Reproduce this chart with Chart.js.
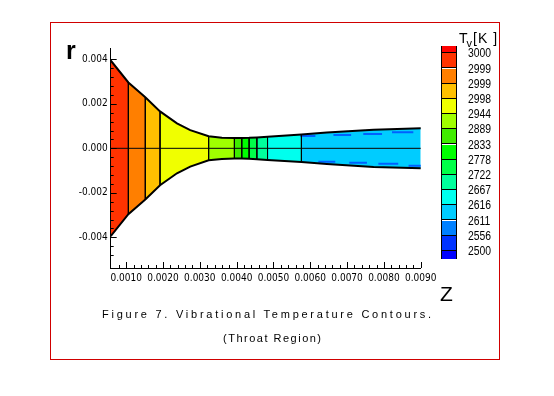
<!DOCTYPE html>
<html>
<head>
<meta charset="utf-8">
<script src="https://cdn.jsdelivr.net/npm/chart.js@4.4.1/dist/chart.umd.min.js"></script>
<style>
body { margin: 0; background: #fff; }
#wrap { position: relative; width: 554px; height: 396px; overflow: hidden; font-family: 'Liberation Sans', Arial, sans-serif; }
#myChart { position: absolute; left: 0; top: 0; }
#marco { position: absolute; left: 50px; top: 22px; width: 450px; height: 338px; box-sizing: border-box; border: 1px solid #d00000; }
.txt { position: absolute; white-space: nowrap; color: #000; line-height: 1; }
#ejeR { left: 66px; top: 38px; font-size: 25px; font-weight: bold; }
#ejeZ { left: 440px; top: 283px; font-size: 21px; }
#cap1 { left: 102px; top: 309px; font-size: 11px; letter-spacing: 2.75px; }
#cap2 { left: 223px; top: 333px; font-size: 11px; letter-spacing: 1.5px; }
#tituloLeyenda { left: 459px; top: 31px; font-size: 14px; letter-spacing: 1px; }
#tituloLeyenda sub { font-size: 11px; vertical-align: -4px; margin-left: -2px; }
#barra { position: absolute; left: 441px; width: 16px; box-sizing: border-box; border: 1px solid #000; }
.caja { position: absolute; left: 0; width: 14px; box-sizing: border-box; border-bottom: 1px solid #000; }
.etiqueta { position: absolute; left: 468px; font-size: 12.5px; line-height: 14px; transform: scaleX(0.83); transform-origin: left center; }
</style>
</head>
<body>
<div id="wrap">
  <canvas id="myChart" width="554" height="396"></canvas>
  <div id="marco"></div>
  <div class="txt" id="ejeR">r</div>
  <div class="txt" id="ejeZ">Z</div>
  <div class="txt" id="cap1">Figure 7. Vibrational Temperature Contours.</div>
  <div class="txt" id="cap2">(Throat Region)</div>
  <div class="txt" id="tituloLeyenda">T<sub>v</sub>[K ]</div>
  <div id="barra"></div>
</div>
<script>
// contorno de la tobera (pared superior, simetrica)
const wallZ = [0.00058, 0.00106, 0.00152, 0.00192, 0.00238, 0.00274, 0.00324, 0.00360, 0.00394, 0.00414, 0.00434, 0.00455, 0.00484, 0.00576, 0.00645, 0.00772, 0.00903];
const wallR = [0.00395, 0.00296, 0.00230, 0.00166, 0.00112, 0.00082, 0.00054, 0.00048, 0.00046, 0.00046, 0.00047, 0.00049, 0.00052, 0.00062, 0.00071, 0.00084, 0.00090];

// bandas de temperatura entre contornos
const bandEdges = [0.00058, 0.00106, 0.00152, 0.00192, 0.00324, 0.00394, 0.00414, 0.00434, 0.00455, 0.00484, 0.00576, 0.00903];
const bandColors = ['#ff3300', '#ff7f00', '#ffc000', '#f0ff00', '#a0ff00', '#40ec00', '#00ff00', '#00ff48', '#00ff9c', '#00ffee', '#00ccff'];

// rayas azules cerca de la pared (contornos 2611 / 2556)
const streakZ0 = [0.00573, 0.00663, 0.00744, 0.00822, 0.00622, 0.00706, 0.00785, 0.00867];
const streakZ1 = [0.00614, 0.00711, 0.00795, 0.00880, 0.00668, 0.00754, 0.00839, 0.00903];
const streakR = [0.00055, 0.00060, 0.00064, 0.00072, -0.00060, -0.00065, -0.00069, -0.00078];

// leyenda
const legendLabels = ['3000', '2999', '2999', '2998', '2944', '2889', '2833', '2778', '2722', '2667', '2616', '2611', '2556', '2500'];
const legendColors = ['#ff0000', '#ff3300', '#ff7f00', '#ffc000', '#f0ff00', '#a0ff00', '#40ec00', '#00ff00', '#00ff48', '#00ff9c', '#00ffee', '#00ccff', '#0080ff', '#0033ff', '#0000ff'];

// ejes
const zMin = 0.00058, zMax = 0.0090, zMinor = 0.0002, zMajor = 0.001;
const rMin = -0.00538, rMax = 0.00451, rMinor = 0.0004, rMajor = 0.002;

const esMultiplo = (v, paso) => {
    const k = v / paso;
    return Math.abs(k - Math.round(k)) < 1e-6;
}

const puntosPared = (signo, z0, z1) => {
    return wallZ.map((z, i) => ({ x: z, y: signo * wallR[i] }))
        .filter(p => p.x >= z0 - 1e-9 && p.x <= z1 + 1e-9);
}

const datasets = [];

bandColors.forEach((color, b) => {
    [1, -1].forEach(signo => {
        datasets.push({
            data: puntosPared(signo, bandEdges[b], bandEdges[b + 1]),
            fill: 'origin',
            backgroundColor: color,
            borderColor: 'rgba(0,0,0,0)',
            borderWidth: 1,
            order: 3
        });
    });
});

const rayas = [];
streakZ0.forEach((z0, i) => {
    rayas.push({ x: z0, y: streakR[i] }, { x: streakZ1[i], y: streakR[i] }, { x: streakZ1[i], y: null });
});
datasets.push({ data: rayas, borderColor: '#0060ff', borderWidth: 2, fill: false, spanGaps: false, order: 2 });

[1, -1].forEach(signo => {
    datasets.push({ data: puntosPared(signo, zMin, 1), borderColor: '#000', borderWidth: 2, fill: false, order: 1 });
});

bandEdges.slice(1, -1).forEach(z => {
    const r = wallR[wallZ.findIndex(w => Math.abs(w - z) < 1e-9)];
    datasets.push({ data: [{ x: z, y: r }, { x: z, y: -r }], borderColor: '#000', borderWidth: 1, fill: false, order: 1 });
});

datasets.push({ data: [{ x: zMin, y: 0 }, { x: wallZ[wallZ.length - 1], y: 0 }], borderColor: '#000', borderWidth: 1, fill: false, order: 1 });

// marcas de los ejes hacia dentro
const marcasInternas = {
    id: 'marcasInternas',
    afterDraw(chart) {
        const { ctx, chartArea, scales: { x, y } } = chart;
        ctx.save();
        ctx.strokeStyle = '#000';
        ctx.lineWidth = 1;
        ctx.beginPath();
        x.ticks.forEach(t => {
            if (!esMultiplo(t.value, zMinor)) return;
            const px = Math.round(x.getPixelForValue(t.value)) + 0.5;
            ctx.moveTo(px, chartArea.bottom);
            ctx.lineTo(px, chartArea.bottom - (esMultiplo(t.value, zMajor) ? 6 : 3));
        });
        y.ticks.forEach(t => {
            if (!esMultiplo(t.value, rMinor)) return;
            const py = Math.round(y.getPixelForValue(t.value)) + 0.5;
            ctx.moveTo(chartArea.left, py);
            ctx.lineTo(chartArea.left + (esMultiplo(t.value, rMajor) ? 6 : 3), py);
        });
        ctx.stroke();
        ctx.restore();
    }
};

const fuenteTicks = { family: "'Liberation Sans Narrow', 'DejaVu Sans Condensed', sans-serif", size: 10 };

new Chart(document.getElementById('myChart').getContext('2d'), {
    type: 'line',
    data: { datasets: datasets },
    options: {
        responsive: false,
        animation: false,
        devicePixelRatio: 1,
        layout: { padding: { left: 50.7, right: 133.3, top: 48, bottom: 108 } },
        elements: { point: { radius: 0, hoverRadius: 0 }, line: { tension: 0 } },
        plugins: { legend: { display: false }, tooltip: { enabled: false } },
        scales: {
            x: {
                type: 'linear',
                min: zMin,
                max: zMax,
                grid: { display: false, drawTicks: false },
                border: { display: true, color: '#000', width: 1 },
                afterFit: (scale) => { scale.height = 20; },
                ticks: {
                    stepSize: zMinor,
                    autoSkip: false,
                    maxRotation: 0,
                    minRotation: 0,
                    padding: 4,
                    color: '#000',
                    font: fuenteTicks,
                    callback: (v) => (esMultiplo(v, zMajor) && v > zMin) ? v.toFixed(4) : ''
                }
            },
            y: {
                type: 'linear',
                min: rMin,
                max: rMax,
                grid: { display: false, drawTicks: false },
                border: { display: true, color: '#000', width: 1 },
                afterFit: (scale) => { scale.width = 60; },
                ticks: {
                    stepSize: rMinor,
                    autoSkip: false,
                    padding: 3,
                    color: '#000',
                    font: fuenteTicks,
                    callback: (v) => esMultiplo(v, rMajor) ? v.toFixed(3) : ''
                }
            }
        }
    },
    plugins: [marcasInternas]
});

// barra de colores
const barra = document.getElementById('barra');
const limites = [46];
legendLabels.forEach((_, i) => limites.push(53.3 + i * 15.2));
limites.push(259.3);
barra.style.top = limites[0] + 'px';
barra.style.height = (limites[limites.length - 1] - limites[0]) + 'px';
legendColors.forEach((color, i) => {
    const caja = document.createElement('div');
    caja.className = 'caja';
    caja.style.top = (limites[i] - limites[0] - 1) + 'px';
    caja.style.height = (limites[i + 1] - limites[i]) + 'px';
    caja.style.background = color;
    if (i === legendColors.length - 1) caja.style.borderBottom = 'none';
    barra.appendChild(caja);
});
legendLabels.forEach((texto, i) => {
    const et = document.createElement('div');
    et.className = 'etiqueta';
    et.style.top = (limites[i + 1] - 7) + 'px';
    et.textContent = texto;
    document.getElementById('wrap').appendChild(et);
});
</script>
</body>
</html>
